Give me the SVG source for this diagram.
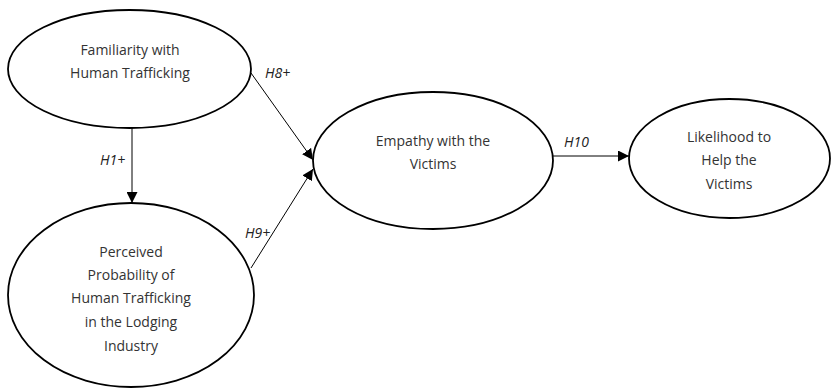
<svg xmlns="http://www.w3.org/2000/svg" width="834" height="388" viewBox="0 0 834 388">
<style>
.node{fill:#fff;stroke:#000;stroke-width:1.8}
.t{font-family:"Open Sans","Liberation Sans",sans-serif;font-size:14px;fill:#333;text-anchor:middle}
.l{font-family:"Open Sans","Liberation Sans",sans-serif;font-size:14px;font-style:italic;fill:#222}
.c{stroke:#000;stroke-width:1;fill:none;marker-end:url(#ah)}
</style>
<defs>
<marker id="ah" viewBox="0 0 10 10" refX="10" refY="5" markerWidth="11" markerHeight="11" markerUnits="userSpaceOnUse" orient="auto">
<path d="M0,0 L10,5 L0,10 z" fill="#000"/>
</marker>
</defs>
<g id="connectors">
<line class="c" x1="132" y1="128" x2="132" y2="203"/>
<line class="c" x1="251" y1="73" x2="313" y2="160"/>
<line class="c" x1="251" y1="268" x2="313" y2="169"/>
<line class="c" x1="553" y1="156" x2="629" y2="156"/>
<text class="l" x="100" y="165">H1+</text>
<text class="l" x="265" y="78">H8+</text>
<text class="l" x="245" y="238">H9+</text>
<text class="l" x="564" y="147">H10</text>
</g>
<g id="familiarity">
<ellipse class="node" cx="129.5" cy="69" rx="121.5" ry="59"/>
<text class="t" x="130" y="55">Familiarity with</text>
<text class="t" x="130" y="78">Human Trafficking</text>
</g>
<g id="perceived">
<ellipse class="node" cx="131" cy="295" rx="123" ry="92"/>
<text class="t" x="131" y="257">Perceived</text>
<text class="t" x="131" y="280">Probability of</text>
<text class="t" x="131" y="303">Human Trafficking</text>
<text class="t" x="131" y="327">in the Lodging</text>
<text class="t" x="131" y="351">Industry</text>
</g>
<g id="empathy">
<ellipse class="node" cx="433" cy="160.5" rx="120" ry="68.5"/>
<text class="t" x="433" y="146">Empathy with the</text>
<text class="t" x="433" y="169">Victims</text>
</g>
<g id="likelihood">
<ellipse class="node" cx="729.5" cy="158.5" rx="100.5" ry="59.5"/>
<text class="t" x="729" y="142">Likelihood to</text>
<text class="t" x="729" y="165">Help the</text>
<text class="t" x="729" y="189">Victims</text>
</g>
</svg>
